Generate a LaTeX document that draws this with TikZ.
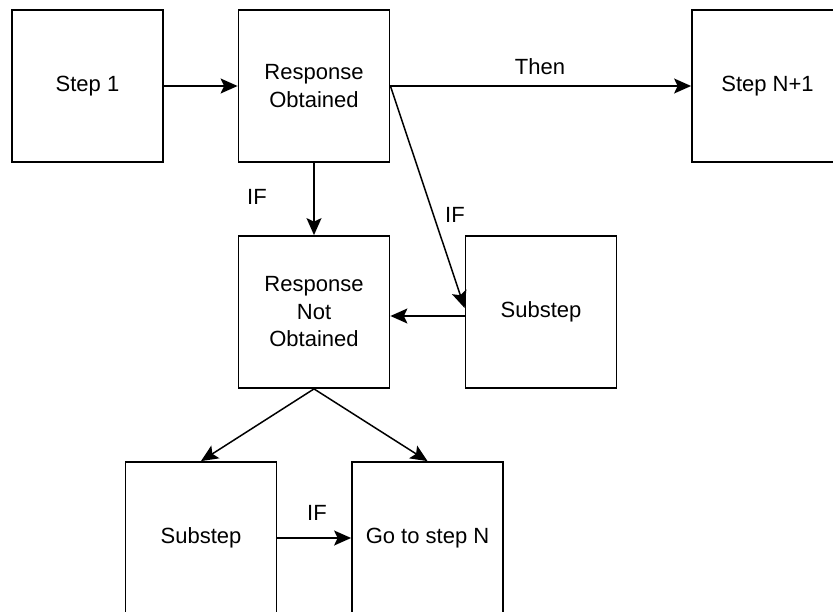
\documentclass[tikz,border=0pt]{standalone}
\usepackage{fontspec}
\setmainfont{Liberation Sans}
\usetikzlibrary{arrows.meta,calc}

\tikzset{
  box/.style={draw=black, line width=1.8pt, rectangle, minimum width=151pt,
    minimum height=152pt, inner sep=0pt, align=center,
    font=\fontsize{22}{27.5}\selectfont},
  link/.style={draw=black, line width=1.5pt,
    -{Stealth[length=17pt, width=15pt, inset=3.5pt]}},
  tag/.style={font=\fontsize{22}{27.5}\selectfont, inner sep=0pt}
}

\begin{document}
\begin{tikzpicture}[x=1pt, y=-1pt]
  \useasboundingbox (0,0) rectangle (833,611);
  \clip (0,0) rectangle (833,611);

  % top row
  \node[box] (s1)  at (87.5,86)  {Step 1};
  \node[box] (ro)  at (314,86)   {Response\\Obtained};
  \node[box] (sn1) at (767.5,86) {Step N+1};

  % middle row
  \node[box] (rno)  at (314,312) {Response\\Not\\Obtained};
  \node[box] (sub1) at (541,312) {Substep};

  % bottom row
  \node[box] (sub2) at (201,538)   {Substep};
  \node[box] (goto) at (427.5,538) {Go to step N};

  % connectors
  \draw[link] (s1.east) -- (ro.west);
  \draw[link] (ro.east) -- (sn1.west);
  \draw[link] (ro.south) -- (rno.north);
  \draw[link] (ro.east) -- ($(sub1.west)+(0,-4)$);
  \draw[link] ($(sub1.west)+(0,4)$) -- ($(rno.east)+(0,4)$);
  \draw[link] (rno.south) -- (sub2.north);
  \draw[link] (rno.south) -- (goto.north);
  \draw[link] (sub2.east) -- (goto.west);

  % connector labels
  \node[tag] (tThen) at (540,67)  {Then};
  \node[tag] (tIf1)  at (257,197) {IF};
  \node[tag] (tIf2)  at (455,215) {IF};
  \node[tag] (tIf3)  at (317,513) {IF};
\end{tikzpicture}
\end{document}
